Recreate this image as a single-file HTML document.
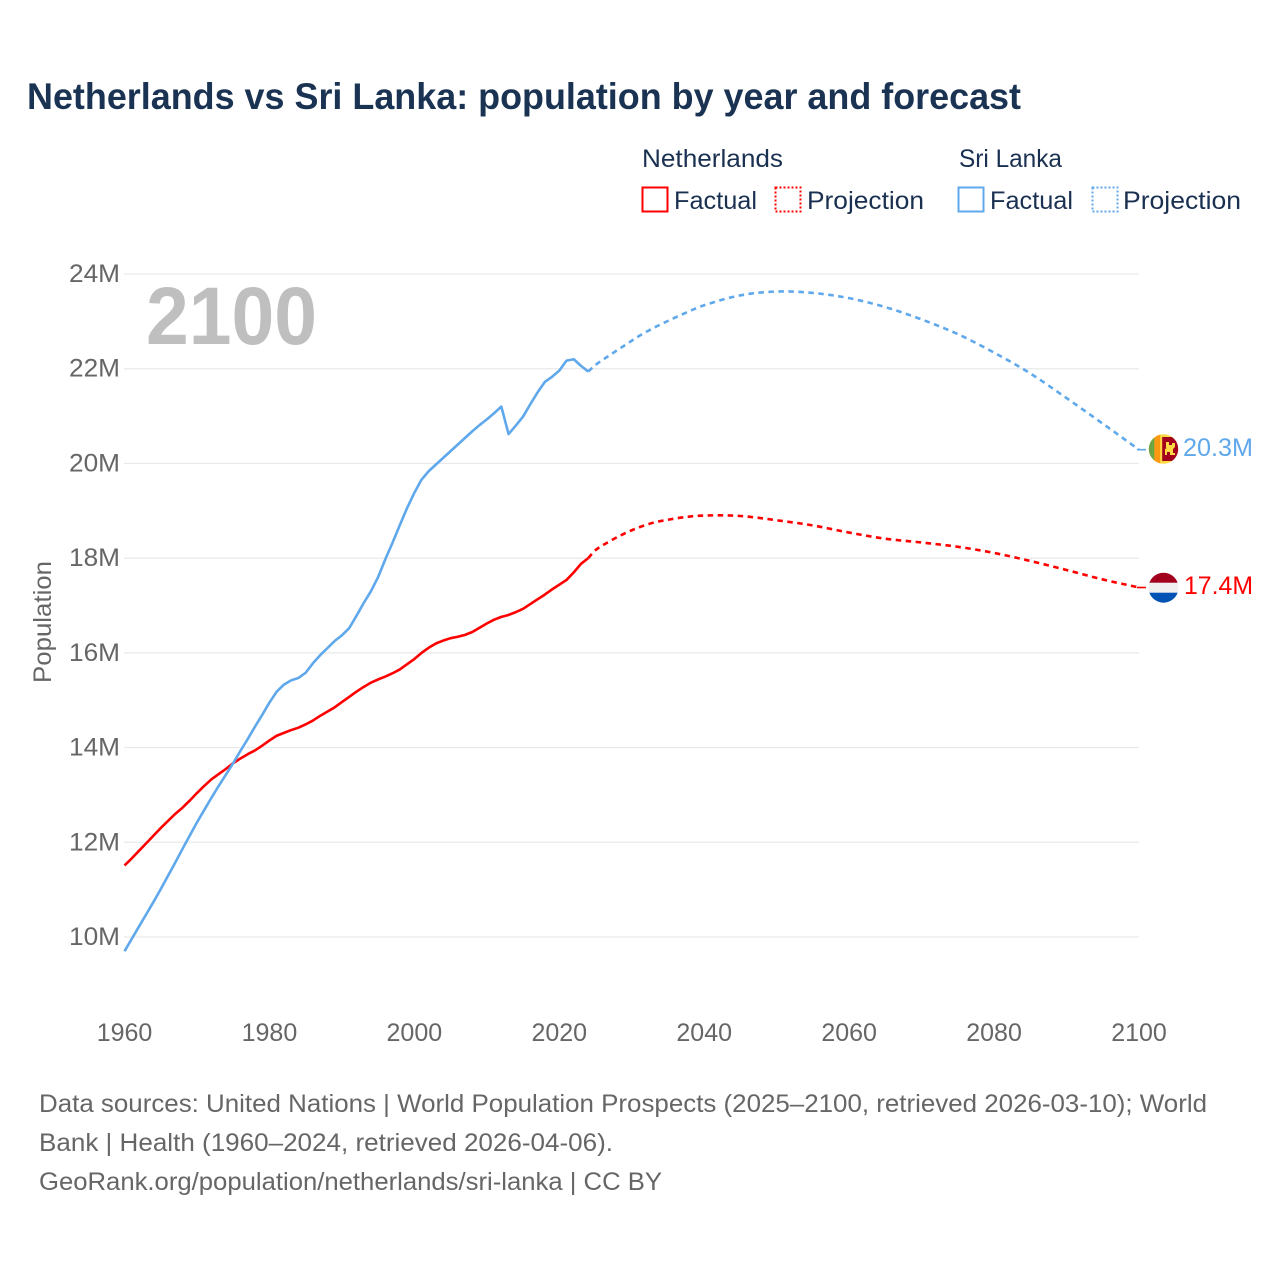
<!DOCTYPE html>
<html lang="en">
<head>
<meta charset="utf-8">
<title>Netherlands vs Sri Lanka: population by year and forecast</title>
<style>
html,body{margin:0;padding:0;background:#fff;width:1280px;height:1280px;overflow:hidden}
svg{display:block}
text{font-family:"Liberation Sans",sans-serif}
.ink{fill:#1a3050}
.muted{fill:#666}
</style>
</head>
<body>
<svg id="chart" xmlns="http://www.w3.org/2000/svg" width="1280" height="1280" viewBox="0 0 1280 1280">
  <defs>
    <clipPath id="clip-lk"><circle cx="1163.5" cy="449" r="14.7"/></clipPath>
    <clipPath id="clip-nl"><circle cx="1163.5" cy="587.7" r="15"/></clipPath>
  </defs>

  <text x="27" y="109" font-size="37" font-weight="700" fill="#1a3353" textLength="994" lengthAdjust="spacingAndGlyphs">Netherlands vs Sri Lanka: population by year and forecast</text>

  <g>
    <text class="ink" x="642" y="167" font-size="25" textLength="141" lengthAdjust="spacingAndGlyphs">Netherlands</text>
    <text class="ink" x="959" y="167" font-size="25" textLength="103" lengthAdjust="spacingAndGlyphs">Sri Lanka</text>

    <rect x="642.5" y="187.5" width="25" height="24" fill="none" stroke="#ff0000" stroke-width="2"/>
    <text class="ink" x="674" y="209" font-size="25" textLength="83" lengthAdjust="spacingAndGlyphs">Factual</text>
    <rect x="775.5" y="187.5" width="25" height="24" fill="none" stroke="#ff0000" stroke-width="2" stroke-dasharray="2 2"/>
    <text class="ink" x="807" y="209" font-size="25" textLength="117" lengthAdjust="spacingAndGlyphs">Projection</text>

    <rect x="958.5" y="187.5" width="25" height="24" fill="none" stroke="#5fa8eb" stroke-width="2"/>
    <text class="ink" x="990" y="209" font-size="25" textLength="83" lengthAdjust="spacingAndGlyphs">Factual</text>
    <rect x="1092.5" y="187.5" width="25" height="24" fill="none" stroke="#5fa8eb" stroke-width="2" stroke-dasharray="2 2"/>
    <text class="ink" x="1123" y="209" font-size="25" textLength="118" lengthAdjust="spacingAndGlyphs">Projection</text>
  </g>

  <g id="grid"></g>
  <g id="yticks"></g>
  <g id="xticks"></g>

  <text class="muted" transform="translate(51 622) rotate(-90)" text-anchor="middle" font-size="25" textLength="122" lengthAdjust="spacingAndGlyphs">Population</text>

  <text x="146" y="344" font-size="82" font-weight="700" fill="#bfbfbf" textLength="171" lengthAdjust="spacingAndGlyphs">2100</text>

  <g id="series"></g>

  <g clip-path="url(#clip-lk)">
    <rect x="1148" y="434" width="31" height="30" fill="#ffda44"/>
    <rect x="1148" y="434" width="6.4" height="30" fill="#6da544"/>
    <rect x="1154.4" y="434" width="5.8" height="30" fill="#ff9811"/>
    <rect x="1162.2" y="437" width="17" height="24" fill="#a2001d"/>
    <path d="M1166 442h3v3h3v-2h3v4l-2 2v4h2v2h-5v-3h-3v3h-2v-6l2-1h-1z" fill="#ffda44"/>
  </g>
  <g clip-path="url(#clip-nl)">
    <rect x="1148" y="572" width="31" height="11" fill="#a2001d"/>
    <rect x="1148" y="582.7" width="31" height="10" fill="#f0f0f0"/>
    <rect x="1148" y="592.7" width="31" height="11" fill="#0052b4"/>
  </g>

  <text x="1183" y="456" font-size="25" fill="#5fa8eb" textLength="70" lengthAdjust="spacingAndGlyphs">20.3M</text>
  <text x="1184" y="594" font-size="25" fill="#ff0000" textLength="69" lengthAdjust="spacingAndGlyphs">17.4M</text>

  <g class="muted" font-size="25">
    <text class="muted" x="39" y="1112" textLength="1168" lengthAdjust="spacingAndGlyphs">Data sources: United Nations | World Population Prospects (2025–2100, retrieved 2026-03-10); World</text>
    <text class="muted" x="39" y="1151" textLength="574" lengthAdjust="spacingAndGlyphs">Bank | Health (1960–2024, retrieved 2026-04-06).</text>
    <text class="muted" x="39" y="1190" textLength="623" lengthAdjust="spacingAndGlyphs">GeoRank.org/population/netherlands/sri-lanka | CC BY</text>
  </g>
</svg>

<script>
var factualYears = [1960,1961,1962,1963,1964,1965,1966,1967,1968,1969,1970,1971,1972,1973,1974,1975,1976,1977,1978,1979,1980,1981,1982,1983,1984,1985,1986,1987,1988,1989,1990,1991,1992,1993,1994,1995,1996,1997,1998,1999,2000,2001,2002,2003,2004,2005,2006,2007,2008,2009,2010,2011,2012,2013,2014,2015,2016,2017,2018,2019,2020,2021,2022,2023,2024];
var nlFactual = [11.51,11.66,11.82,11.98,12.14,12.30,12.45,12.60,12.73,12.88,13.04,13.19,13.33,13.44,13.55,13.67,13.77,13.86,13.94,14.04,14.15,14.25,14.31,14.37,14.42,14.49,14.57,14.67,14.76,14.85,14.96,15.07,15.18,15.28,15.37,15.44,15.50,15.57,15.65,15.76,15.87,16.00,16.11,16.20,16.26,16.31,16.34,16.38,16.44,16.53,16.62,16.70,16.76,16.80,16.86,16.93,17.03,17.13,17.23,17.34,17.44,17.54,17.70,17.88,18.00];
var lkFactual = [9.70,9.96,10.22,10.48,10.74,11.01,11.29,11.57,11.86,12.14,12.42,12.68,12.94,13.19,13.43,13.67,13.93,14.18,14.44,14.69,14.95,15.18,15.33,15.42,15.47,15.58,15.78,15.95,16.10,16.25,16.37,16.52,16.78,17.05,17.30,17.60,17.98,18.33,18.70,19.06,19.38,19.66,19.84,19.98,20.12,20.26,20.40,20.54,20.68,20.81,20.93,21.06,21.20,20.62,20.80,20.99,21.25,21.50,21.72,21.83,21.96,22.17,22.20,22.06,21.94];
var projectionYears = [2024,2025,2027,2029,2031,2033,2035,2037,2040,2045,2050,2055,2060,2065,2070,2075,2080,2085,2090,2095,2100];
var nlProjection = [18.00,18.17,18.36,18.52,18.65,18.75,18.81,18.86,18.90,18.89,18.80,18.69,18.54,18.41,18.33,18.24,18.11,17.94,17.75,17.55,17.38];
var lkProjection = [21.94,22.08,22.29,22.49,22.69,22.86,23.01,23.15,23.34,23.55,23.63,23.60,23.49,23.30,23.04,22.73,22.34,21.90,21.38,20.84,20.29];
var yTickValues = [10,12,14,16,18,20,22,24];
var yTickLabels = ["10M","12M","14M","16M","18M","20M","22M","24M"];
var xTickValues = [1960,1980,2000,2020,2040,2060,2080,2100];
var xTickLabels = ["1960","1980","2000","2020","2040","2060","2080","2100"];

var NS = "http://www.w3.org/2000/svg";
function xScale(year){ return 124.5 + (year - 1960) * (1139 - 124.5) / 140; }
function yScale(v){ return 937 - (v - 10) * (937 - 274) / 14; }

var grid = document.getElementById("grid");
var yticks = document.getElementById("yticks");
var xticks = document.getElementById("xticks");
var series = document.getElementById("series");

yTickValues.forEach(function(v, i){
  var line = document.createElementNS(NS, "line");
  
  
  line.setAttribute("x1", 124);
  line.setAttribute("x2", 1139);
  line.setAttribute("y1", yScale(v));
  line.setAttribute("y2", yScale(v));
  line.setAttribute("stroke", "#e9e9e9");
  line.setAttribute("stroke-width", "1.2");
  grid.appendChild(line);

  var t = document.createElementNS(NS, "text");
  
  
  t.setAttribute("x", 120);
  t.setAttribute("y", yScale(v) + 8);
  t.setAttribute("text-anchor", "end");
  t.setAttribute("font-size", "25");
  t.setAttribute("fill", "#666");
  t.setAttribute("textLength", "51");
  t.setAttribute("lengthAdjust", "spacingAndGlyphs");
  t.textContent = yTickLabels[i];
  yticks.appendChild(t);
});

xTickValues.forEach(function(v, i){
  var t = document.createElementNS(NS, "text");
  
  
  t.setAttribute("x", xScale(v));
  t.setAttribute("y", 1041);
  t.setAttribute("text-anchor", "middle");
  t.setAttribute("font-size", "25");
  t.setAttribute("fill", "#666");
  t.textContent = xTickLabels[i];
  xticks.appendChild(t);
});

function straightPath(years, values){
  return years.map(function(y, i){
    return (i ? "L" : "M") + xScale(y).toFixed(2) + " " + yScale(values[i]).toFixed(2);
  }).join("");
}
function smoothPath(years, values){
  var pts = years.map(function(y, i){ return [xScale(y), yScale(values[i])]; });
  var d = "M" + pts[0][0].toFixed(2) + " " + pts[0][1].toFixed(2);
  for (var i = 0; i < pts.length - 1; i++){
    var p0 = pts[Math.max(i - 1, 0)], p1 = pts[i], p2 = pts[i + 1], p3 = pts[Math.min(i + 2, pts.length - 1)];
    var h = p2[0] - p1[0];
    var m1 = (p2[1] - p0[1]) / (p2[0] - p0[0]);
    var m2 = (p3[1] - p1[1]) / (p3[0] - p1[0]);
    d += "C" + (p1[0] + h / 3).toFixed(2) + " " + (p1[1] + m1 * h / 3).toFixed(2) + " " +
         (p2[0] - h / 3).toFixed(2) + " " + (p2[1] - m2 * h / 3).toFixed(2) + " " +
         p2[0].toFixed(2) + " " + p2[1].toFixed(2);
  }
  return d;
}

var nlLine = document.createElementNS(NS, "path");


nlLine.setAttribute("d", straightPath(factualYears, nlFactual));
nlLine.setAttribute("fill", "none");
nlLine.setAttribute("stroke", "#ff0000");
nlLine.setAttribute("stroke-width", "2.6");
nlLine.setAttribute("stroke-linejoin", "round");
series.appendChild(nlLine);

var lkLine = document.createElementNS(NS, "path");


lkLine.setAttribute("d", straightPath(factualYears, lkFactual));
lkLine.setAttribute("fill", "none");
lkLine.setAttribute("stroke", "#5fa8eb");
lkLine.setAttribute("stroke-width", "2.6");
lkLine.setAttribute("stroke-linejoin", "round");
series.appendChild(lkLine);

var nlProj = document.createElementNS(NS, "path");


nlProj.setAttribute("d", smoothPath(projectionYears, nlProjection));
nlProj.setAttribute("fill", "none");
nlProj.setAttribute("stroke", "#ff0000");
nlProj.setAttribute("stroke-width", "2.6");
nlProj.setAttribute("stroke-dasharray", "5.5 4.5");
series.appendChild(nlProj);

var lkProj = document.createElementNS(NS, "path");


lkProj.setAttribute("d", smoothPath(projectionYears, lkProjection));
lkProj.setAttribute("fill", "none");
lkProj.setAttribute("stroke", "#5fa8eb");
lkProj.setAttribute("stroke-width", "2.6");
lkProj.setAttribute("stroke-dasharray", "5.5 4.5");
series.appendChild(lkProj);

var nlLeader = document.createElementNS(NS, "line");


nlLeader.setAttribute("x1", xScale(2100) - 2);
nlLeader.setAttribute("x2", xScale(2100) + 7);
nlLeader.setAttribute("y1", yScale(nlProjection[nlProjection.length - 1]));
nlLeader.setAttribute("y2", yScale(nlProjection[nlProjection.length - 1]));
nlLeader.setAttribute("stroke", "#ff0000");
nlLeader.setAttribute("stroke-width", "1.6");
series.appendChild(nlLeader);

var lkLeader = document.createElementNS(NS, "line");


lkLeader.setAttribute("x1", xScale(2100) - 2);
lkLeader.setAttribute("x2", xScale(2100) + 7);
lkLeader.setAttribute("y1", yScale(lkProjection[lkProjection.length - 1]));
lkLeader.setAttribute("y2", yScale(lkProjection[lkProjection.length - 1]));
lkLeader.setAttribute("stroke", "#5fa8eb");
lkLeader.setAttribute("stroke-width", "1.6");
series.appendChild(lkLeader);
</script>
</body>
</html>
